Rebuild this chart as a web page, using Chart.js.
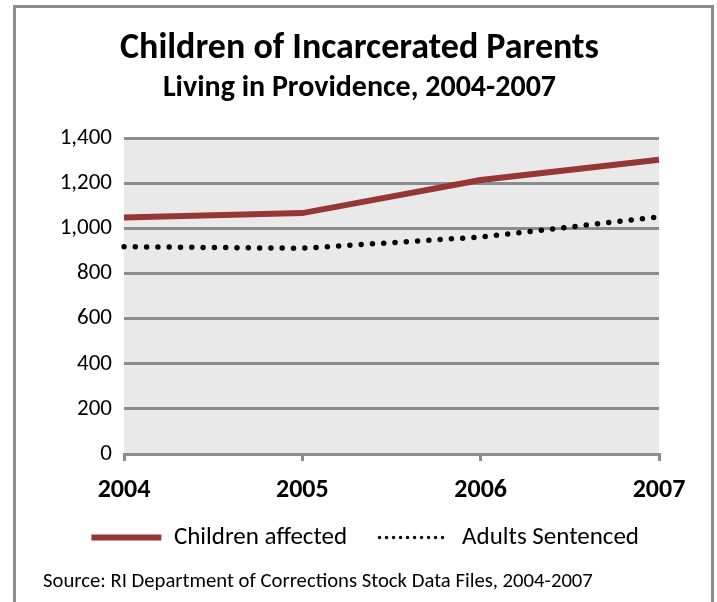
<!DOCTYPE html>
<html>
<head>
<meta charset="utf-8">
<script src="https://cdn.jsdelivr.net/npm/chart.js@4/dist/chart.umd.min.js"></script>
<style>
  body { margin: 0; background: #fff; }
  #wrap { width: 717px; height: 602px; }
</style>
</head>
<body>
<div id="wrap"><canvas id="myChart" width="717" height="602"></canvas></div>
<script>
// data
const years = ["2004", "2005", "2006", "2007"];
const childrenAffected = [1048, 1068, 1215, 1304];
const adultsSentenced = [919, 912, 962, 1051];
const yTicks = [0, 200, 400, 600, 800, 1000, 1200, 1400];

const font = "Carlito, 'Liberation Sans Narrow', 'Open Sans', sans-serif";

// gray plot background + outer frame + source line
const decor = {
  id: 'decor',
  beforeDraw(chart) {
    const ctx = chart.ctx;
    const a = chart.chartArea;
    ctx.save();
    ctx.fillStyle = '#e9e9e9';
    ctx.fillRect(a.left, a.top, a.right - a.left, a.bottom - a.top);
    ctx.restore();
  },
  afterDraw(chart) {
    const ctx = chart.ctx;
    ctx.save();
    ctx.strokeStyle = '#8c8c8c';
    ctx.lineWidth = 3;
    ctx.strokeRect(14.5, 6.5, 698, 640);
    ctx.fillStyle = '#000';
    ctx.font = "20.7px " + font;
    ctx.textBaseline = 'middle';
    ctx.fillText("Source: RI Department of Corrections Stock Data Files, 2004-2007", 43, 582);
    ctx.restore();
  }
};

const ctx = document.getElementById("myChart");
const myChart = new Chart(ctx, {
  type: 'line',
  data: {
    labels: years,
    datasets: [{
      label: "Children affected",
      data: childrenAffected,
      borderColor: '#953735',
      backgroundColor: '#953735',
      borderWidth: 6,
      pointRadius: 0,
      tension: 0
    }, {
      label: "Adults Sentenced",
      data: adultsSentenced,
      borderColor: '#000',
      backgroundColor: '#000',
      borderWidth: 5.5,
      borderDash: [0, 11.3],
      borderCapStyle: 'round',
      pointRadius: 0,
      tension: 0
    }]
  },
  options: {
    responsive: false,
    animation: false,
    layout: { padding: { left: 60, right: 58, top: 0, bottom: 42 } },
    plugins: {
      title: {
        display: true,
        text: "Children of Incarcerated Parents",
        color: '#000',
        font: { family: font, size: 36, weight: 'bold' },
        padding: { top: 27, bottom: 0 }
      },
      subtitle: {
        display: true,
        text: "Living in Providence, 2004-2007",
        color: '#000',
        font: { family: font, size: 30, weight: 'bold' },
        padding: { top: 0, bottom: 32 }
      },
      legend: {
        position: 'bottom',
        align: 'end',
        labels: {
          usePointStyle: true,
          pointStyle: 'line',
          pointStyleWidth: 70,
          color: '#000',
          font: { family: font, size: 25 },
          padding: 20,
          generateLabels(chart) {
            const items = Chart.defaults.plugins.legend.labels.generateLabels(chart);
            items[0].text = items[0].text + "\u2002";
            items[0].lineWidth = 6;
            items[0].lineCap = 'butt';
            items[0].lineDash = [];
            items[1].lineWidth = 3.5;
            items[1].lineCap = 'round';
            items[1].lineDash = [0, 7];
            return items;
          }
        }
      },
      tooltip: { enabled: false }
    },
    scales: {
      x: {
        offset: false,
        afterFit(scale) { scale.height = 51; },
        grid: {
          drawOnChartArea: false,
          drawTicks: true,
          tickLength: 7,
          color: '#8c8c8c',
          lineWidth: 3
        },
        border: { display: true, color: '#8c8c8c', width: 3 },
        ticks: {
          color: '#000',
          padding: 14,
          maxRotation: 0,
          font: { family: font, size: 26, weight: 'bold' }
        }
      },
      y: {
        min: 0,
        max: 1400,
        afterBuildTicks(scale) {
          scale.ticks = yTicks.map(v => ({ value: v }));
        },
        afterFit(scale) { scale.width = 64; },
        grid: { drawTicks: false, color: '#8c8c8c', lineWidth: 3 },
        border: { display: false },
        ticks: {
          color: '#000',
          padding: 12,
          font: { family: font, size: 23 }
        }
      }
    }
  },
  plugins: [decor]
});
</script>
</body>
</html>
